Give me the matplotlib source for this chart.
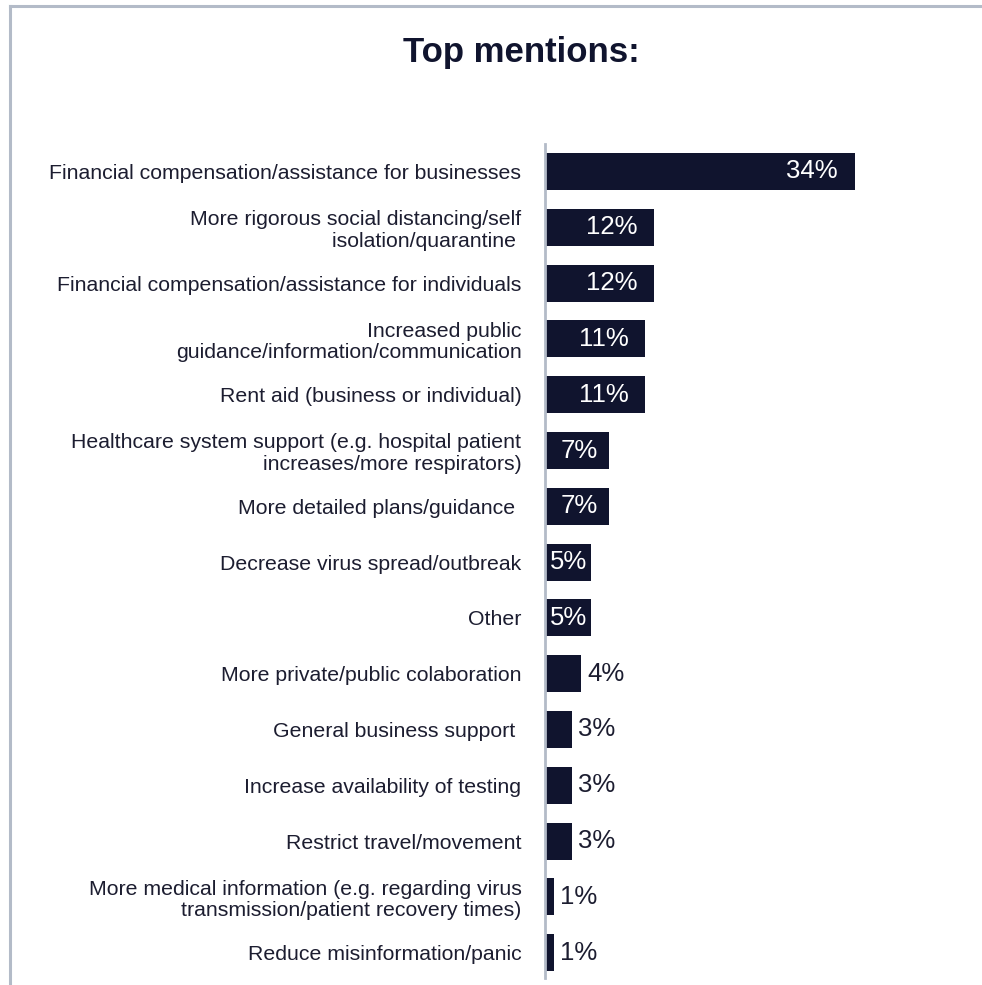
import matplotlib
matplotlib.use("Agg")
import matplotlib.pyplot as plt
from matplotlib.lines import Line2D

plt.rcParams['font.family'] = ['Liberation Sans', 'DejaVu Sans']

categories = [
    "Financial compensation/assistance for businesses",
    "More rigorous social distancing/self\nisolation/quarantine ",
    "Financial compensation/assistance for individuals",
    "Increased public\nguidance/information/communication",
    "Rent aid (business or individual)",
    "Healthcare system support (e.g. hospital patient\nincreases/more respirators)",
    "More detailed plans/guidance ",
    "Decrease virus spread/outbreak",
    "Other",
    "More private/public colaboration",
    "General business support ",
    "Increase availability of testing",
    "Restrict travel/movement",
    "More medical information (e.g. regarding virus\ntransmission/patient recovery times)",
    "Reduce misinformation/panic",
]
values = [34, 12, 12, 11, 11, 7, 7, 5, 5, 4, 3, 3, 3, 1, 1]
value_labels = [f"{v}%" for v in values]
title = "Top mentions:"

W, H = 982, 985
BAR = '#10142e'
TXT = '#1c1d30'
GRAY = '#b3bbc8'

fig = plt.figure(figsize=(W / 100, H / 100), dpi=100)

ax_left, ax_right = 545, 960
ax_top, ax_bot = 144, 978
ax = fig.add_axes([ax_left / W, 1 - ax_bot / H, (ax_right - ax_left) / W, (ax_bot - ax_top) / H])

row0, step = 171.5, 55.8
px_per_unit = 310 / 34
ax.set_xlim(0, (ax_right - ax_left) / px_per_unit)
ax.set_ylim((ax_bot - row0) / step, (ax_top - row0) / step)

ypos = list(range(len(values)))
ax.barh(ypos, values, height=0.66, color=BAR, zorder=2)

ax.set_yticks(ypos)
ax.set_yticklabels(categories, fontsize=15.3, color=TXT, linespacing=1.15)
ax.tick_params(axis='y', length=0, pad=17)
ax.set_xticks([])
for s in ['top', 'right', 'bottom']:
    ax.spines[s].set_visible(False)
ax.spines['left'].set_color(GRAY)
ax.spines['left'].set_linewidth(2)

fig.canvas.draw()
renderer = fig.canvas.get_renderer()
for y, v, lab in zip(ypos, values, value_labels):
    if v >= 5:
        t = ax.annotate(lab, (v, y), xytext=(0, 0), textcoords='offset pixels',
                        ha='right', va='center', color='white', fontsize=18.5)
        tw = t.get_window_extent(renderer).width
        bw = v * px_per_unit
        pad = min(17, max(2, (bw - tw) * 0.4))
        t.set_position((-pad, 0))
    else:
        ax.annotate(lab, (v, y), xytext=(6, 0), textcoords='offset pixels',
                    ha='left', va='center', color=TXT, fontsize=18.5)

fig.text(521 / W, 1 - 62 / H, title, ha='center', va='baseline',
         fontsize=25, fontweight='bold', color=BAR)

# frame lines (top and left)
fig.add_artist(Line2D([10 / W, 1], [1 - 6 / H, 1 - 6 / H], transform=fig.transFigure,
                      color=GRAY, linewidth=2.2))
fig.add_artist(Line2D([10 / W, 10 / W], [0, 1 - 6 / H], transform=fig.transFigure,
                      color=GRAY, linewidth=2.2))

fig.savefig("out.png", dpi=100)
